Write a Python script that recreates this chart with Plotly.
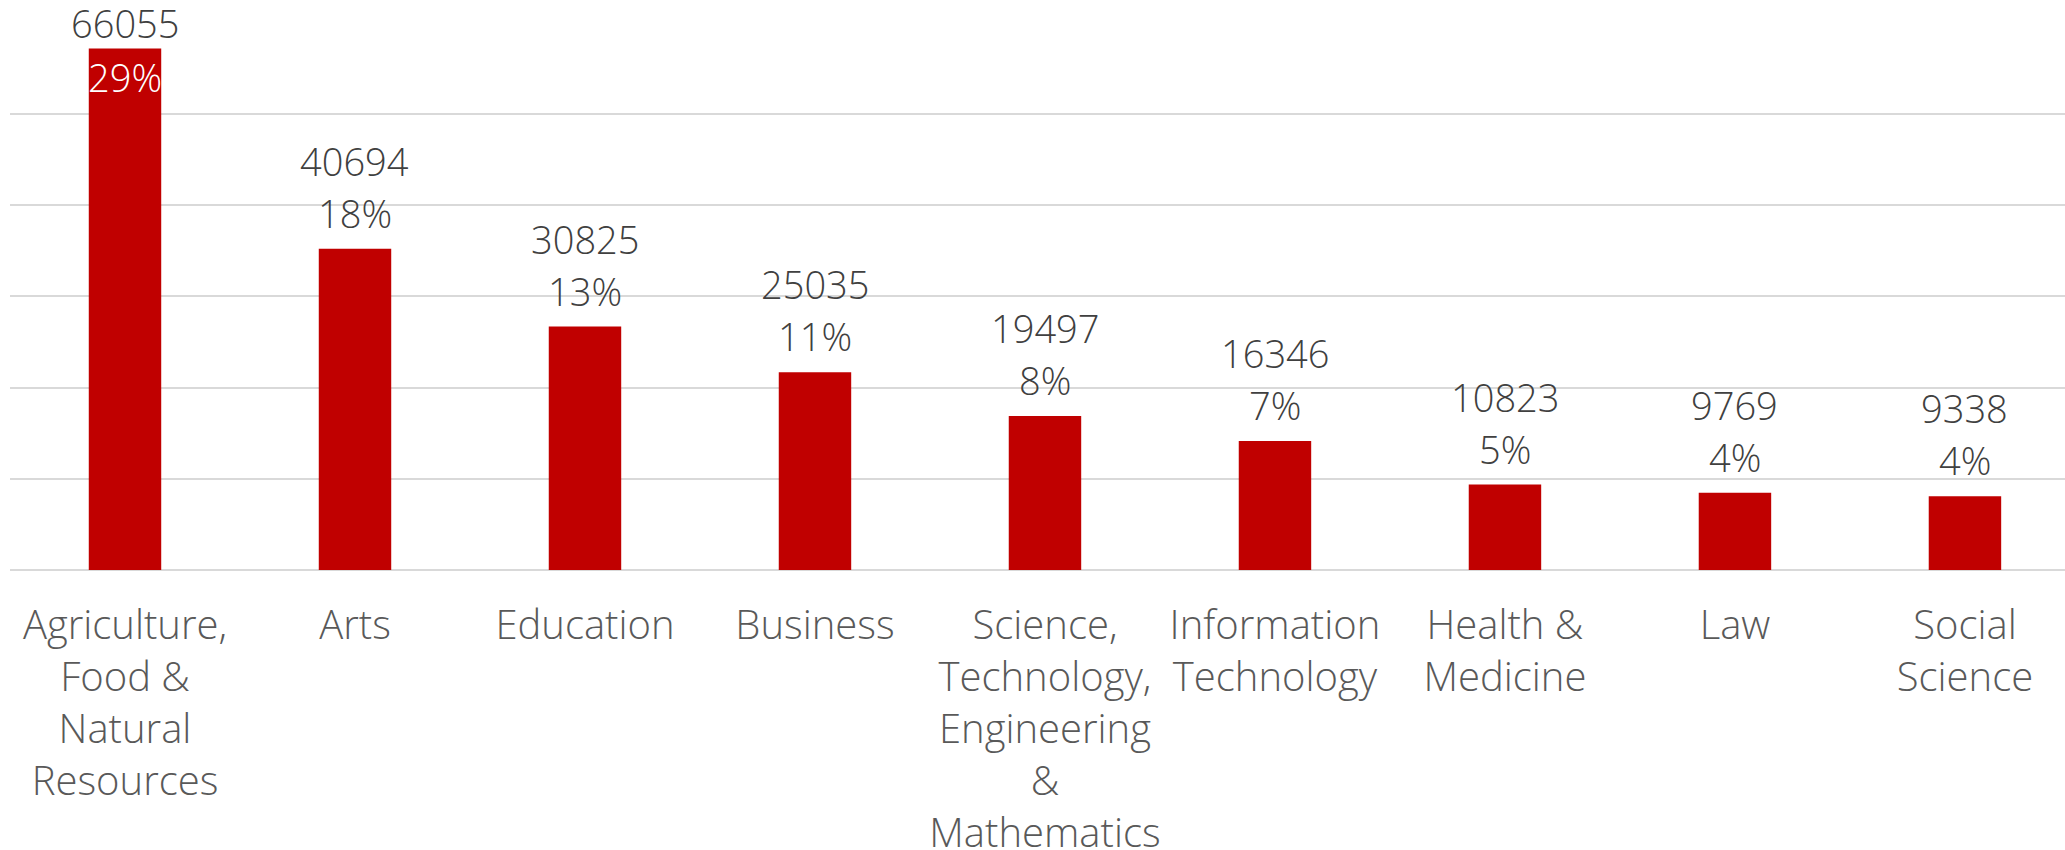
import plotly.graph_objects as go

categories = [
    "Agriculture,<br>Food &<br>Natural<br>Resources",
    "Arts",
    "Education",
    "Business",
    "Science,<br>Technology,<br>Engineering<br>&<br>Mathematics",
    "Information<br>Technology",
    "Health &<br>Medicine",
    "Law",
    "Social<br>Science",
]
counts = [66055, 40694, 30825, 25035, 19497, 16346, 10823, 9769, 9338]
percent_labels = ["29%", "18%", "13%", "11%", "8%", "7%", "5%", "4%", "4%"]

BAR_COLOR = "#C00000"
LABEL_COLOR = "#404040"
AXIS_COLOR = "#595959"
GRID_COLOR = "#D9D9D9"
FONT = "Open Sans"
FS = 38
TICK_FS = 40

fig = go.Figure()
fig.add_trace(go.Bar(
    x=categories,
    y=counts,
    marker=dict(color=BAR_COLOR, line=dict(width=0)),
    hoverinfo="skip",
))

annotations = []
for i, (c, v, p) in enumerate(zip(categories, counts, percent_labels)):
    if i == 0:
        v_shift, p_shift, p_col = 25, -29, "white"
    else:
        v_shift, p_shift, p_col = 88, 36, LABEL_COLOR
    annotations.append(dict(x=c, y=v, xref="x", yref="y", text=str(v), showarrow=False,
                            yanchor="middle", yshift=v_shift,
                            font=dict(family=FONT, size=FS, color=LABEL_COLOR, weight=300)))
    annotations.append(dict(x=c, y=v, xref="x", yref="y", text=p, showarrow=False,
                            yanchor="middle", yshift=p_shift,
                            font=dict(family=FONT, size=FS, color=p_col, weight=300)))

fig.update_layout(
    width=2065, height=850, autosize=False,
    margin=dict(l=10, r=0, t=22, b=280, pad=0),
    paper_bgcolor="white", plot_bgcolor="white",
    showlegend=False,
    bargap=0.685,
    annotations=annotations,
    font=dict(family=FONT, size=FS, color=AXIS_COLOR, weight=300),
    xaxis=dict(
        type="category",
        range=[-0.5, 8.435],
        automargin=False,
        showgrid=False,
        showline=False,
        zeroline=False,
        ticks="outside", ticklen=20, tickcolor="rgba(0,0,0,0)",
        tickfont=dict(family=FONT, size=TICK_FS, color=AXIS_COLOR, weight=300),
    ),
    yaxis=dict(
        range=[0, 69400],
        dtick=11555,
        tick0=0,
        automargin=False,
        showgrid=True, gridcolor=GRID_COLOR, gridwidth=2,
        zeroline=True, zerolinecolor=GRID_COLOR, zerolinewidth=2,
        showticklabels=False,
        showline=False,
    ),
)

fig.write_html(
    "out.html",
    config={"displayModeBar": False},
    post_script="document.body.style.margin='0';document.body.style.overflow='hidden';",
)
